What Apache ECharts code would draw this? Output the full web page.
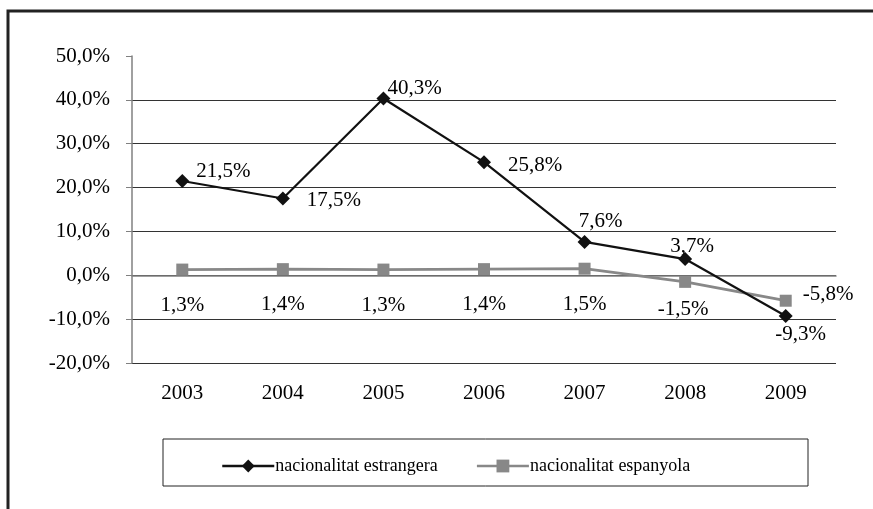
<!DOCTYPE html>
<html>
<head>
<meta charset="utf-8">
<script src="https://cdn.jsdelivr.net/npm/echarts@6/dist/echarts.min.js"></script>
<style>
html, body { margin: 0; padding: 0; background: #fff; }
#chart { width: 873px; height: 509px; }
</style>
</head>
<body>
<div id="chart"></div>
<script>
var years = ['2003', '2004', '2005', '2006', '2007', '2008', '2009'];
var estrangera = [21.5, 17.5, 40.3, 25.8, 7.6, 3.7, -9.3];
var espanyola = [1.3, 1.4, 1.3, 1.4, 1.5, -1.5, -5.8];
// posicio de cada etiqueta
var posEstr = [['right', [2, -10]], ['right', [12, 2]], ['right', [-8, -10]], ['right', [12, 3]], ['top', [16, 2]], ['top', [7, 10]], ['bottom', [15, -4]]];
var posEsp = [['bottom', [0, 14]], ['bottom', [0, 14]], ['bottom', [0, 14]], ['bottom', [0, 14]], ['bottom', [0, 14]], ['bottom', [-2, 6]], ['right', [6, -6]]];

function pct(v, dec) {
    return v.toFixed(dec).replace('.', ',') + '%';
}

function buildData(vals, pos) {
    return vals.map(function (v, i) {
        return {
            value: v,
            label: { position: pos[i][0], offset: pos[i][1] }
        };
    });
}

var myChart = echarts.init(document.getElementById('chart'));
var font = '"Liberation Serif", "Times New Roman", serif';

var option = {
    backgroundColor: '#fff',
    animation: false,
    textStyle: { fontFamily: font, color: '#000' },
    graphic: [
        {
            type: 'rect',
            shape: { x: 8, y: 11, width: 900, height: 520 },
            style: { fill: null, stroke: '#222', lineWidth: 3 }
        },
        {
            type: 'rect',
            shape: { x: 163, y: 439, width: 645, height: 47 },
            style: { fill: null, stroke: '#222', lineWidth: 1 }
        }
    ],
    grid: { left: 132, right: 37, top: 56, bottom: 146 },
    legend: {
        left: 216,
        top: 452,
        itemWidth: 52,
        itemHeight: 16,
        itemGap: 38,
        lineStyle: { width: 2.5 },
        textStyle: { fontFamily: font, fontSize: 18, color: '#000', padding: [0, 0, 0, -4] },
        data: ['nacionalitat estrangera', 'nacionalitat espanyola']
    },
    xAxis: {
        type: 'category',
        data: years,
        axisLine: { lineStyle: { color: '#808080', width: 1.5 } },
        axisTick: { length: 6, lineStyle: { color: '#808080' } },
        axisLabel: { fontFamily: font, fontSize: 21, color: '#000', margin: 20 }
    },
    yAxis: {
        type: 'value',
        min: -20,
        max: 50,
        interval: 10,
        axisLine: { show: true, lineStyle: { color: '#808080', width: 1.5 } },
        axisTick: { show: true, length: 6, lineStyle: { color: '#808080' } },
        axisLabel: {
            fontFamily: font, fontSize: 21, color: '#000', margin: 22,
            formatter: function (v) { return pct(v, 1); }
        },
        splitLine: {
            lineStyle: { color: '#333', width: 1.2 },
            showMaxLine: false
        }
    },
    series: [
        {
            name: 'nacionalitat estrangera',
            type: 'line',
            data: buildData(estrangera, posEstr),
            symbol: 'diamond',
            symbolSize: 14,
            itemStyle: { color: '#111' },
            lineStyle: { color: '#111', width: 2.2 },
            label: {
                show: true,
                fontFamily: font,
                fontSize: 21,
                color: '#000',
                formatter: function (p) { return pct(p.value, 1); }
            },
            z: 3
        },
        {
            name: 'nacionalitat espanyola',
            type: 'line',
            data: buildData(espanyola, posEsp),
            symbol: 'rect',
            symbolSize: 12,
            itemStyle: { color: '#888' },
            lineStyle: { color: '#888', width: 2.8 },
            label: {
                show: true,
                fontFamily: font,
                fontSize: 21,
                color: '#000',
                formatter: function (p) { return pct(p.value, 1); }
            },
            z: 2
        }
    ]
};

if (option && typeof option === "object") {
    myChart.setOption(option, true);
}
</script>
</body>
</html>
